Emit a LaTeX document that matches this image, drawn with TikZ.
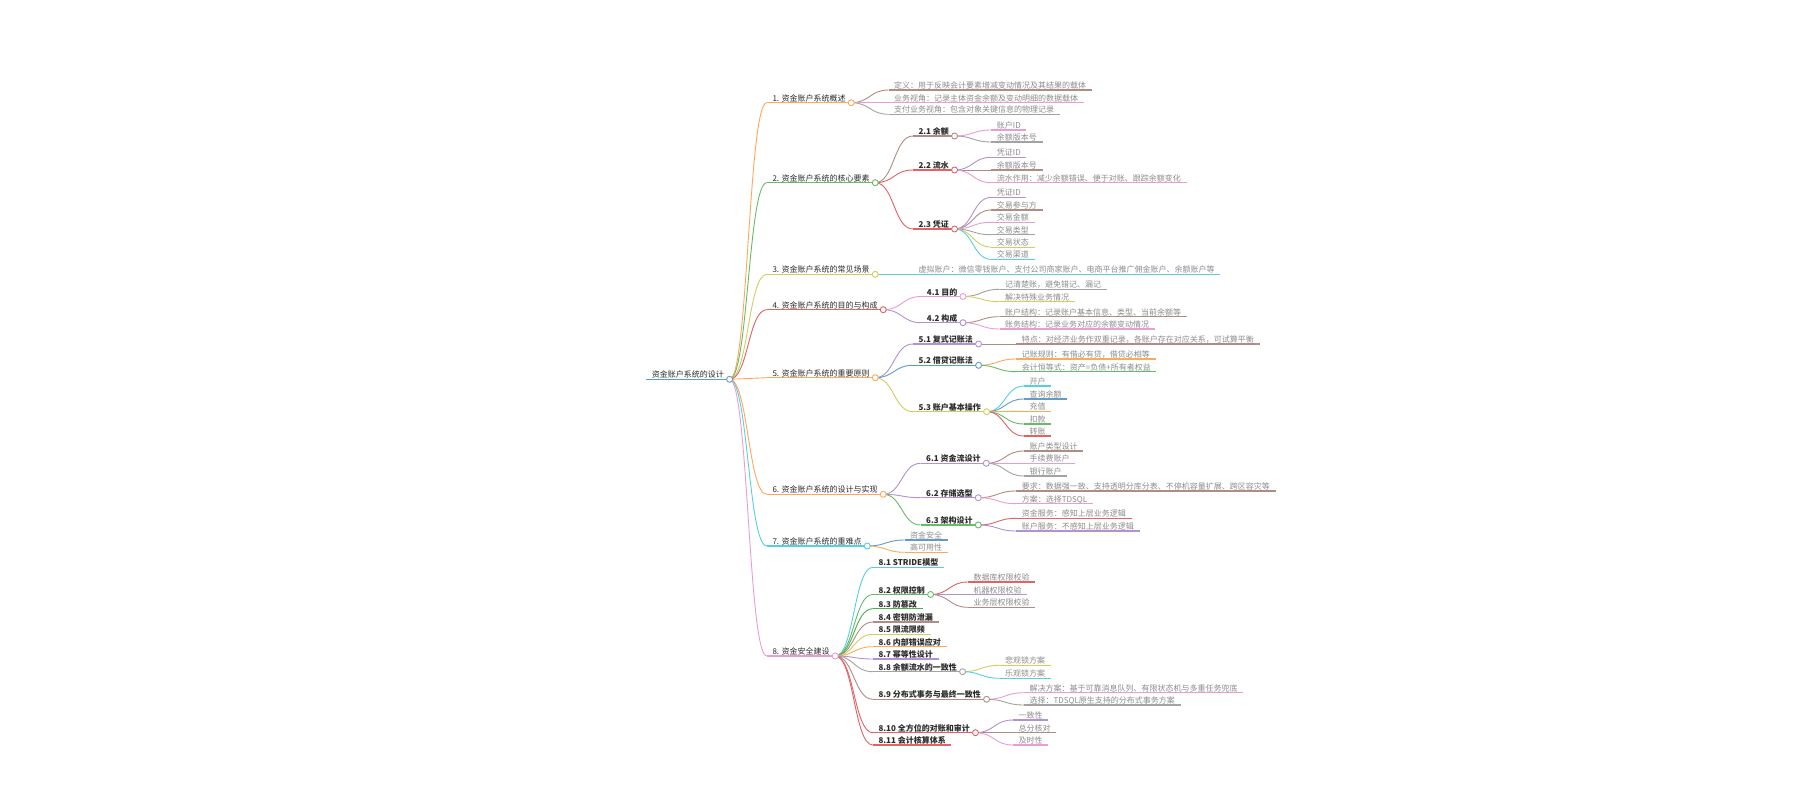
\documentclass[tikz,border=0pt]{standalone}
\usepackage{fontspec}
\newfontfamily\cjk{Noto Sans CJK SC}
\usetikzlibrary{calc}
\pgfdeclarelayer{fg}
\pgfsetlayers{main,fg}
\definecolor{bBlue}{HTML}{1F77B4}
\definecolor{bOrange}{HTML}{FF7F0E}
\definecolor{bGreen}{HTML}{2CA02C}
\definecolor{bRed}{HTML}{D62728}
\definecolor{bPurple}{HTML}{9467BD}
\definecolor{bBrown}{HTML}{8C564B}
\definecolor{bPink}{HTML}{E377C2}
\definecolor{bGray}{HTML}{7F7F7F}
\definecolor{bOlive}{HTML}{BCBD22}
\definecolor{bCyan}{HTML}{17BECF}
\colorlet{cBlue}{bBlue!72!white}
\colorlet{cOrange}{bOrange!68!white}
\colorlet{cGreen}{bGreen!72!white}
\colorlet{cRed}{bRed!72!white}
\colorlet{cPurple}{bPurple!72!white}
\colorlet{cBrown}{bBrown!68!white}
\colorlet{cPink}{bPink!72!white}
\colorlet{cGray}{bGray!72!white}
\colorlet{cOlive}{bOlive!72!white}
\colorlet{cCyan}{bCyan!72!white}
\definecolor{leafgray}{HTML}{8C8C8C}
\definecolor{headtxt}{HTML}{2B2B2B}
\tikzset{
  mmtx/.style={inner xsep=5.5pt, inner ysep=0pt, anchor=base west, font=\cjk\fontsize{8}{9}\selectfont},
  mmroot/.style={mmtx, text=headtxt},
  mmhd/.style={mmtx, text=headtxt},
  mmsub/.style={mmtx, font=\cjk\bfseries\fontsize{8}{9}\selectfont, text=headtxt},
  mmlf/.style={mmtx, text=leafgray},
  uline/.style={line width=1.1pt},
  link/.style={line width=0.9pt},
  circ/.style={circle, fill=white, line width=0.9pt, minimum size=6pt, inner sep=0pt},
}
% #1 name, #2 parent, #3 text x, #4 line y, #5 style, #6 colour, #7 text
\newcommand\mmlink[3]{\draw[link,#1] let \p1=(#2), \p2=(#3) in (\p1) .. controls ({(\x1+\x2)/2},\y1) and ({(\x1+\x2)/2},\y2) .. (\p2);}
\newcommand\mm[7]{%
  \node[#5] (#1) at (#3-5.5,#4-1.5) {#7};
  \coordinate (#1-s) at (#3-5.5,#4);
  \coordinate (#1-e) at (#1.east |- #1-s);
  \draw[uline,#6] (#1-s) -- (#1-e);
  \mmlink{#6}{#2-e}{#1-s}}
\newcommand\mmc[2]{\begin{pgfonlayer}{fg}\node[circ,draw=#2] (#1-c) at (#1-e) {};\end{pgfonlayer}}
\begin{document}
\begin{tikzpicture}[x=1pt,y=-1pt]
\path[use as bounding box, fill=white] (0,0) rectangle (1800,800);
% root
\node[mmroot] (r) at (646.2,377.8) {资金账户系统的设计};
\coordinate (r-s) at (646.2,379.3);
\coordinate (r-e) at (r.east |- r-s);
\draw[uline,cBlue] (r-s) -- (r-e);
\mmc{r}{cBlue}
% 1
\mm{n1}{r}{772.3}{102.7}{mmhd}{cOrange}{1. 资金账户系统概述}\mmc{n1}{cOrange}
\mm{n11}{n1}{894}{90}{mmlf}{cBrown}{定义：用于反映会计要素增减变动情况及其结果的载体}
\mm{n12}{n1}{894}{102.7}{mmlf}{cPink}{业务视角：记录主体资金余额及变动明细的数据载体}
\mm{n13}{n1}{894}{114.3}{mmlf}{cGray}{支付业务视角：包含对象关键信息的物理记录}
% 2
\mm{n2}{r}{772.3}{182.7}{mmhd}{cGreen}{2. 资金账户系统的核心要素}\mmc{n2}{cGreen}
\mm{n21}{n2}{918.3}{136}{mmsub}{cBrown}{2.1 余额}\mmc{n21}{cBrown}
\mm{n211}{n21}{996.7}{130}{mmlf}{cPink}{账户ID}
\mm{n212}{n21}{996.7}{142}{mmlf}{cGray}{余额版本号}
\mm{n22}{n2}{918.3}{170}{mmsub}{cRed}{2.2 流水}\mmc{n22}{cRed}
\mm{n221}{n22}{996.7}{157.3}{mmlf}{cPurple}{凭证ID}
\mm{n222}{n22}{996.7}{170}{mmlf}{cBrown}{余额版本号}
\mm{n223}{n22}{996.7}{182.7}{mmlf}{cPink}{流水作用：减少余额错误、便于对账、跟踪余额变化}
\mm{n23}{n2}{918.3}{229}{mmsub}{cRed}{2.3 凭证}\mmc{n23}{cRed}
\mm{n231}{n23}{996.7}{197.3}{mmlf}{cPurple}{凭证ID}
\mm{n232}{n23}{996.7}{210}{mmlf}{cBrown}{交易参与方}
\mm{n233}{n23}{996.7}{222.3}{mmlf}{cPink}{交易金额}
\mm{n234}{n23}{996.7}{234.7}{mmlf}{cGray}{交易类型}
\mm{n235}{n23}{996.7}{247.1}{mmlf}{cOlive}{交易状态}
\mm{n236}{n23}{996.7}{259.4}{mmlf}{cCyan}{交易渠道}
% 3
\mm{n3}{r}{772.3}{274.3}{mmhd}{cOlive}{3. 资金账户系统的常见场景}\mmc{n3}{cOlive}
\mm{n31}{n3}{918.3}{274.3}{mmlf}{cCyan}{虚拟账户：微信零钱账户、支付公司商家账户、电商平台推广佣金账户、余额账户等}
% 4
\mm{n4}{r}{772.3}{309.7}{mmhd}{cRed}{4. 资金账户系统的目的与构成}\mmc{n4}{cRed}
\mm{n41}{n4}{926.7}{296.5}{mmsub}{cPink}{4.1 目的}\mmc{n41}{cPink}
\mm{n411}{n41}{1005}{289.3}{mmlf}{cGray}{记清楚账，避免错记、漏记}
\mm{n412}{n41}{1005}{301.7}{mmlf}{cOlive}{解决特殊业务情况}
\mm{n42}{n4}{926.7}{322.7}{mmsub}{cPurple}{4.2 构成}\mmc{n42}{cPurple}
\mm{n421}{n42}{1005}{316.7}{mmlf}{cBrown}{账户结构：记录账户基本信息、类型、当前余额等}
\mm{n422}{n42}{1005}{329}{mmlf}{cPink}{账务结构：记录业务对应的余额变动情况}
% 5
\mm{n5}{r}{772.3}{377.7}{mmhd}{cOrange}{5. 资金账户系统的重要原则}\mmc{n5}{cOrange}
\mm{n51}{n5}{918.3}{344}{mmsub}{cPurple}{5.1 复式记账法}\mmc{n51}{cPurple}
\mm{n511}{n51}{1021.7}{344}{mmlf}{cBrown}{特点：对经济业务作双重记录，各账户存在对应关系，可试算平衡}
\mm{n52}{n5}{918.3}{365.3}{mmsub}{cBlue}{5.2 借贷记账法}\mmc{n52}{cBlue}
\mm{n521}{n52}{1021.7}{359}{mmlf}{cOrange}{记账规则：有借必有贷，借贷必相等}
\mm{n522}{n52}{1021.7}{371.7}{mmlf}{cGreen}{会计恒等式：资产=负债+所有者权益}
\mm{n53}{n5}{918.3}{411.7}{mmsub}{cOlive}{5.3 账户基本操作}\mmc{n53}{cOlive}
\mm{n531}{n53}{1029.3}{386}{mmlf}{cCyan}{开户}
\mm{n532}{n53}{1029.3}{399}{mmlf}{cBlue}{查询余额}
\mm{n533}{n53}{1029.3}{411.3}{mmlf}{cOrange}{充值}
\mm{n534}{n53}{1029.3}{424}{mmlf}{cGreen}{扣款}
\mm{n535}{n53}{1029.3}{436}{mmlf}{cRed}{转账}
% 6
\mm{n6}{r}{772.3}{494.3}{mmhd}{cOrange}{6. 资金账户系统的设计与实现}\mmc{n6}{cOrange}
\mm{n61}{n6}{926}{463.3}{mmsub}{cPurple}{6.1 资金流设计}\mmc{n61}{cPurple}
\mm{n611}{n61}{1029.3}{451}{mmlf}{cBrown}{账户类型设计}
\mm{n612}{n61}{1029.3}{463.3}{mmlf}{cPink}{手续费账户}
\mm{n613}{n61}{1029.3}{476}{mmlf}{cGray}{银行账户}
\mm{n62}{n6}{926}{497.7}{mmsub}{cPurple}{6.2 存储选型}\mmc{n62}{cPurple}
\mm{n621}{n62}{1021.7}{491}{mmlf}{cBrown}{要求：数据强一致、支持透明分库分表、不停机容量扩展、跨区容灾等}
\mm{n622}{n62}{1021.7}{503.7}{mmlf}{cPink}{方案：选择TDSQL}
\mm{n63}{n6}{926}{525}{mmsub}{cGreen}{6.3 架构设计}\mmc{n63}{cGreen}
\mm{n631}{n63}{1021.7}{518.3}{mmlf}{cRed}{资金服务：感知上层业务逻辑}
\mm{n632}{n63}{1021.7}{531}{mmlf}{cPurple}{账户服务：不感知上层业务逻辑}
% 7
\mm{n7}{r}{772.3}{546}{mmhd}{cCyan}{7. 资金账户系统的重难点}\mmc{n7}{cCyan}
\mm{n71}{n7}{910}{540}{mmlf}{cBlue}{资金安全}
\mm{n72}{n7}{910}{552.3}{mmlf}{cOrange}{高可用性}
% 8
\mm{n8}{r}{772.3}{656}{mmhd}{cPink}{8. 资金安全建设}\mmc{n8}{cPink}
\mm{n81}{n8}{878.3}{567.3}{mmsub}{cCyan}{8.1 STRIDE模型}
\mm{n82}{n8}{878.3}{594.5}{mmsub}{cGreen}{8.2 权限控制}\mmc{n82}{cGreen}
\mm{n821}{n82}{973.3}{582}{mmlf}{cRed}{数据库权限校验}
\mm{n822}{n82}{973.3}{594.5}{mmlf}{cPurple}{机器权限校验}
\mm{n823}{n82}{973.3}{607.3}{mmlf}{cBrown}{业务层权限校验}
\mm{n83}{n8}{878.3}{608.7}{mmsub}{bGreen!85!white}{8.3 防篡改}
\mm{n84}{n8}{878.3}{622}{mmsub}{cBrown}{8.4 密钥防泄漏}
\mm{n85}{n8}{878.3}{634.3}{mmsub}{cOlive}{8.5 限流限频}
\mm{n86}{n8}{878.3}{646.7}{mmsub}{cOrange}{8.6 内部错误应对}
\mm{n87}{n8}{878.3}{659}{mmsub}{cPurple}{8.7 幂等性设计}
\mm{n88}{n8}{878.3}{671.7}{mmsub}{cGray}{8.8 余额流水的一致性}\mmc{n88}{cGray}
\mm{n881}{n88}{1005}{665.3}{mmlf}{cOlive}{悲观锁方案}
\mm{n882}{n88}{1005}{678.3}{mmlf}{cCyan}{乐观锁方案}
\mm{n89}{n8}{878.3}{699.3}{mmsub}{cBrown}{8.9 分布式事务与最终一致性}\mmc{n89}{cBrown}
\mm{n891}{n89}{1029.3}{692.7}{mmlf}{cPink}{解决方案：基于可靠消息队列、有限状态机与多重任务兜底}
\mm{n892}{n89}{1029.3}{705}{mmlf}{cGray}{选择：TDSQL原生支持的分布式事务方案}
\mm{n8a}{n8}{878.3}{732.7}{mmsub}{cRed}{8.10 全方位的对账和审计}\mmc{n8a}{cRed}
\mm{n8a1}{n8a}{1018.3}{720}{mmlf}{cPurple}{一致性}
\mm{n8a2}{n8a}{1018.3}{732.7}{mmlf}{cBrown}{总分核对}
\mm{n8a3}{n8a}{1018.3}{745}{mmlf}{cPink}{及时性}
\mm{n8b}{n8}{878.3}{745}{mmsub}{cRed}{8.11 会计核算体系}
\end{tikzpicture}
\end{document}
